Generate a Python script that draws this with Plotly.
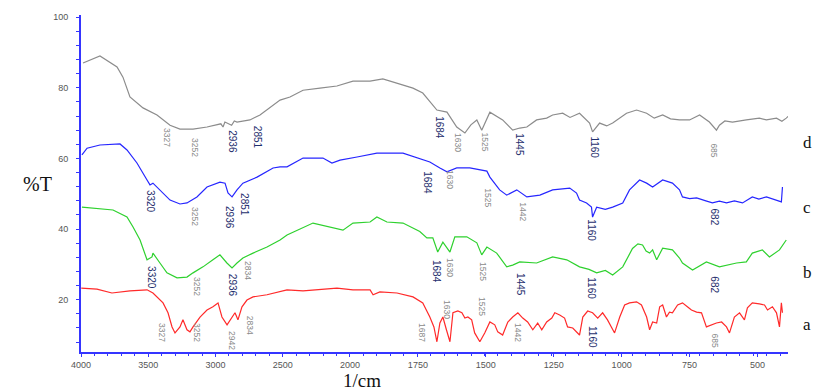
import numpy as np
import plotly.graph_objects as go

# ---------------- data (wavenumber in 1/cm, transmittance %T) ----------------
d_wn = [3985, 3859, 3732, 3688, 3636, 3539, 3435, 3338, 3264, 3167, 3063, 2960, 2944, 2930, 2880, 2860,
        2840, 2744, 2669, 2595, 2520, 2446, 2349, 2223, 2097, 1989, 1926, 1879, 1827, 1768, 1732,
        1680, 1643, 1607, 1577, 1555, 1533, 1515, 1485, 1460, 1438, 1401, 1375, 1349, 1313, 1276,
        1254, 1217, 1190, 1155, 1118, 1107, 1081, 1055, 1033, 982, 945, 908, 880, 849, 820, 787, 750,
        713, 677, 651, 640, 620, 592, 541, 493, 467, 430, 410, 394, 375, 372]
d_T = [87.0, 89.0, 85.9, 83.0, 77.4, 74.3, 72.3, 69.4, 68.3, 68.3, 68.9, 69.8, 68.9, 70.3, 69.4, 70.6,
       70.3, 70.9, 72.3, 74.5, 76.5, 77.4, 79.3, 79.9, 80.5, 81.9, 81.9, 82.5, 81.3, 79.9, 78.5,
       73.7, 73.1, 68.9, 67.2, 69.5, 70.9, 68.0, 73.1, 71.8, 70.9, 68.0, 68.6, 68.9, 70.9, 71.4,
       72.3, 72.8, 71.6, 72.8, 70.0, 67.5, 70.0, 69.2, 70.0, 72.8, 73.7, 72.8, 71.4, 72.3, 71.2, 70.9, 70.9,
       72.3, 70.3, 68.0, 69.4, 70.6, 70.3, 70.9, 71.4, 70.9, 71.4, 70.5, 71.4, 72.8, 68.0]

c_wn = [3993, 3955, 3859, 3710, 3658, 3584, 3509, 3487, 3465, 3413, 3338, 3264, 3212, 3138, 3063,
        2967, 2929, 2907, 2877, 2840, 2796, 2691, 2572, 2520, 2468, 2349, 2201, 2134, 2074, 1974,
        1901, 1805, 1754, 1706, 1669, 1643, 1607, 1559, 1496, 1485, 1449, 1423, 1386, 1349, 1301,
        1254, 1191, 1166, 1155, 1129, 1111, 1107, 1092, 1060, 1033, 996, 971, 934, 908, 886, 849,
        813, 787, 776, 750, 724, 690, 666, 640, 614, 585, 555, 519, 495, 467, 430, 412, 408]
c_T = [61.0, 62.9, 63.8, 64.1, 62.4, 58.7, 53.9, 52.5, 53.0, 51.1, 48.2, 47.1, 47.4, 49.1, 51.9,
       53.3, 53.0, 50.2, 49.1, 51.1, 53.0, 54.7, 57.3, 57.6, 57.6, 60.1, 60.1, 58.7, 59.5, 60.4,
       61.5, 61.5, 60.1, 59.0, 57.3, 56.2, 57.3, 57.3, 56.4, 54.7, 51.1, 49.6, 51.1, 49.1, 49.6,
       51.1, 51.6, 50.2, 48.2, 47.4, 46.2, 43.4, 46.2, 45.6, 46.2, 47.4, 51.1, 53.9, 53.0, 51.9, 53.9,
       53.0, 51.1, 49.1, 48.6, 48.8, 48.0, 47.4, 47.9, 47.4, 48.0, 47.4, 49.1, 48.5, 49.1, 48.2, 47.7, 51.9]

b_wn = [3993, 3762, 3658, 3613, 3561, 3524, 3509, 3472, 3465, 3413, 3361, 3286, 3212, 3167, 3093,
        3019, 2967, 2915, 2877, 2840, 2796, 2721, 2617, 2520, 2468, 2275, 2149, 2052, 1989, 1926,
        1901, 1864, 1805, 1743, 1717, 1695, 1677, 1658, 1632, 1614, 1570, 1533, 1515, 1496, 1460,
        1423, 1401, 1375, 1313, 1254, 1202, 1155, 1120, 1092, 1060, 1033, 996, 960, 940, 923, 910,
        897, 886, 871, 849, 813, 787, 776, 739, 688, 640, 577, 541, 519, 482, 456, 419, 394]
b_T = [46.2, 45.4, 43.4, 40.6, 36.9, 33.2, 31.3, 32.1, 33.2, 30.4, 27.6, 26.2, 26.4, 27.6, 29.3,
       31.3, 32.7, 30.4, 29.0, 30.4, 31.8, 33.2, 34.9, 36.9, 38.3, 41.7, 40.6, 39.7, 41.7, 42.0,
       43.4, 42.0, 41.7, 39.3, 37.5, 37.5, 33.5, 36.3, 33.5, 37.8, 37.8, 36.1, 32.7, 34.9, 33.2,
       29.3, 29.8, 30.7, 30.4, 32.1, 31.3, 29.3, 28.6, 27.6, 28.3, 27.0, 29.3, 34.5, 35.8, 35.5, 33.8,
       33.2, 34.1, 31.3, 34.6, 34.1, 31.8, 30.4, 28.4, 30.7, 29.3, 30.4, 30.7, 33.2, 34.1, 32.1, 34.1, 36.9]

a_wn = [3998, 3881, 3770, 3636, 3509, 3465, 3390, 3353, 3323, 3301, 3264, 3242, 3212, 3190, 3167,
        3115, 3063, 3019, 2981, 2952, 2914, 2877, 2855, 2833, 2803, 2766, 2721, 2617, 2520, 2468,
        2349, 2223, 2097, 1989, 1926, 1915, 1890, 1827, 1768, 1732, 1706, 1691, 1680, 1669, 1658,
        1645, 1632, 1621, 1603, 1588, 1577, 1566, 1552, 1541, 1522, 1504, 1485, 1467, 1456, 1438,
        1419, 1401, 1382, 1364, 1346, 1327, 1309, 1294, 1276, 1257, 1246, 1228, 1210, 1199, 1180,
        1155, 1143, 1125, 1107, 1088, 1070, 1052, 1037, 1026, 1007, 989, 971, 945, 927, 908, 897,
        886, 871, 860, 849, 835, 824, 813, 794, 776, 758, 743, 724, 706, 688, 669, 651, 632, 614,
        603, 585, 566, 548, 537, 519, 493, 474, 463, 445, 430, 419, 412, 408]
a_T = [23.3, 23.0, 21.9, 22.5, 22.8, 21.9, 19.1, 16.3, 12.3, 10.6, 12.3, 14.3, 11.5, 10.9, 12.3,
       15.1, 17.1, 18.0, 19.1, 15.1, 12.9, 15.1, 16.3, 14.3, 18.0, 19.9, 20.8, 21.4, 22.2, 22.8,
       22.5, 23.0, 23.3, 22.8, 22.8, 21.4, 22.2, 21.9, 20.8, 19.1, 15.1, 12.3, 8.1, 13.4, 15.1,
       11.5, 8.1, 16.3, 16.8, 16.3, 14.8, 15.1, 14.3, 10.6, 8.1, 10.6, 13.7, 12.9, 10.9, 10.0,
       13.7, 15.1, 16.3, 14.8, 13.7, 11.5, 13.4, 11.5, 13.7, 14.8, 16.3, 15.7, 14.8, 12.3, 12.0,
       10.0, 15.1, 16.8, 16.3, 14.8, 16.3, 14.3, 12.3, 10.6, 15.1, 18.5, 19.1, 19.4, 18.5, 15.1, 11.5,
       13.7, 13.4, 18.0, 18.5, 15.1, 16.5, 16.3, 18.5, 19.1, 18.0, 17.1, 16.5, 16.3, 12.3, 12.9, 13.4, 13.7, 12.3,
       10.6, 15.1, 16.3, 14.3, 17.7, 19.1, 18.8, 18.5, 17.1, 18.0, 16.3, 12.3, 19.1, 16.3]

# peak labels: text, wavenumber, %T position, style ("n" = navy, "g" = gray)
d_pk_text = ["3327", "3252", "2936", "2851", "1684", "1630", "1525", "1445", "1160", "685"]
d_pk_wn = [3361, 3152, 2870, 2691, 1669, 1603, 1504, 1375, 1099, 658]
d_pk_T = [65.8, 63.2, 64.6, 66.1, 68.6, 64.4, 64.6, 63.8, 63.2, 62.4]
d_pk_style = ["g", "g", "n", "n", "n", "g", "g", "n", "n", "g"]

c_pk_text = ["3320", "3252", "2936", "2851", "1684", "1630", "1525", "1442", "1160", "682"]
c_pk_wn = [3487, 3152, 2892, 2781, 1713, 1632, 1493, 1364, 1110, 658]
c_pk_T = [47.7, 43.7, 43.4, 46.8, 53.0, 53.9, 48.8, 44.8, 39.7, 43.4]
c_pk_style = ["n", "g", "n", "n", "n", "g", "g", "g", "n", "n"]

b_pk_text = ["3320", "3252", "2936", "2834", "1684", "1630", "1525", "1445", "1160", "682"]
b_pk_wn = [3472, 3138, 2877, 2758, 1684, 1632, 1511, 1375, 1110, 658]
b_pk_T = [26.4, 23.6, 24.2, 28.4, 27.9, 29.0, 27.9, 24.2, 23.3, 24.2]
b_pk_style = ["n", "g", "n", "g", "n", "g", "g", "n", "n", "n"]

a_pk_text = ["3327", "3252", "2942", "2834", "1687", "1630", "1525", "1442", "1160", "685"]
a_pk_wn = [3398, 3138, 2877, 2743, 1735, 1643, 1515, 1382, 1110, 658]
a_pk_T = [10.6, 10.6, 8.6, 12.9, 10.6, 17.1, 18.0, 10.6, 9.5, 8.6]
a_pk_style = ["g", "g", "g", "g", "g", "g", "g", "g", "n", "g"]

curve_names = ["a", "b", "c", "d"]
curve_name_T = [12.9, 27.6, 46.0, 64.6]

x_tick_wn = [4000, 3500, 3000, 2500, 2000, 1750, 1500, 1250, 1000, 750, 500]
y_tick_vals = [20, 40, 60, 80, 100]


# split wavenumber scale (expanded x2.02 below 2000 1/cm)
def to_axis(w):
    w = np.asarray(w, dtype=float)
    return np.where(w >= 2000, 4000 - w, 2000 + 2.02 * (2000 - w))


fig = go.Figure()
series = [
    (d_wn, d_T, "#8c8c8c"),
    (c_wn, c_T, "#2626ff"),
    (b_wn, b_T, "#2ed12e"),
    (a_wn, a_T, "#ff2a2a"),
]
for wn, T, col in series:
    fig.add_trace(go.Scatter(x=to_axis(wn), y=T, mode="lines",
                             line=dict(color=col, width=1.2), showlegend=False,
                             hoverinfo="skip"))

annotations = []
styles = {"n": dict(color="#1f2f6e", size=10), "g": dict(color="#8a8a8a", size=8.5)}
for texts, wns, Ts, sts in [(d_pk_text, d_pk_wn, d_pk_T, d_pk_style),
                            (c_pk_text, c_pk_wn, c_pk_T, c_pk_style),
                            (b_pk_text, b_pk_wn, b_pk_T, b_pk_style),
                            (a_pk_text, a_pk_wn, a_pk_T, a_pk_style)]:
    xs = to_axis(wns)
    for t, x, y, s in zip(texts, xs, Ts, sts):
        annotations.append(dict(text=t, x=float(x), y=y, xref="x", yref="y", showarrow=False,
                                textangle=90,
                                font=dict(family="Liberation Sans Narrow, Liberation Sans, sans-serif",
                                          size=styles[s]["size"], color=styles[s]["color"])))

for name, T in zip(curve_names, curve_name_T):
    annotations.append(dict(text=name, x=1.027, y=T, xref="paper", yref="y", showarrow=False,
                            xanchor="center",
                            font=dict(family="Liberation Serif, serif", size=17, color="#111111")))

annotations.append(dict(text="%T", x=-0.062, y=0.5, xref="paper", yref="paper", showarrow=False,
                        xanchor="center",
                        font=dict(family="Liberation Serif, serif", size=20, color="#111111")))
annotations.append(dict(text="1/cm", x=0.397, y=-0.086, xref="paper", yref="paper", showarrow=False,
                        xanchor="center", yanchor="middle",
                        font=dict(family="Liberation Serif, serif", size=19, color="#111111")))

xr = [0, 5257]
yr = [5.2, 100.6]
tickfont = dict(family="Liberation Sans, sans-serif", size=9, color="#555555")

fig.update_layout(
    width=813, height=392,
    margin=dict(l=81, r=25, t=15, b=40),
    paper_bgcolor="white", plot_bgcolor="white",
    annotations=annotations,
    xaxis=dict(range=xr, showgrid=False, zeroline=False, showline=True, linecolor="#3535ff",
               linewidth=2, tickvals=to_axis(x_tick_wn).tolist(), ticktext=[str(v) for v in x_tick_wn],
               ticks="outside", ticklen=3, tickcolor="#3535ff", tickwidth=1, tickfont=tickfont,
               minor=dict(tick0=0, dtick=100, ticks="outside", ticklen=2, tickcolor="#3535ff"),
               fixedrange=True),
    yaxis=dict(range=yr, showgrid=False, zeroline=False, showline=True, linecolor="#3535ff",
               linewidth=2, tickvals=y_tick_vals, ticks="outside", ticklen=3, tickcolor="#3535ff",
               tickwidth=1, tickfont=tickfont, ticklabelstandoff=6,
               minor=dict(tick0=0, dtick=4, ticks="outside", ticklen=3, tickcolor="#3535ff"),
               fixedrange=True),
    xaxis2=dict(range=xr, overlaying="x", anchor="y", side="bottom", showgrid=False, zeroline=False,
                showline=False, tickvals=to_axis(x_tick_wn).tolist(), showticklabels=False,
                ticks="inside", ticklen=3, tickcolor="#3535ff",
                minor=dict(tick0=0, dtick=100, ticks="inside", ticklen=2, tickcolor="#3535ff")),
    yaxis2=dict(range=yr, overlaying="y", anchor="x", side="left", showgrid=False, zeroline=False,
                showline=False, tickvals=y_tick_vals, showticklabels=False,
                ticks="inside", ticklen=3, tickcolor="#3535ff",
                minor=dict(tick0=0, dtick=4, ticks="inside", ticklen=3, tickcolor="#3535ff")),
)

fig.write_html("out.html", config={"displayModeBar": False},
               post_script="document.body.style.margin='0';document.body.style.overflow='hidden';")
